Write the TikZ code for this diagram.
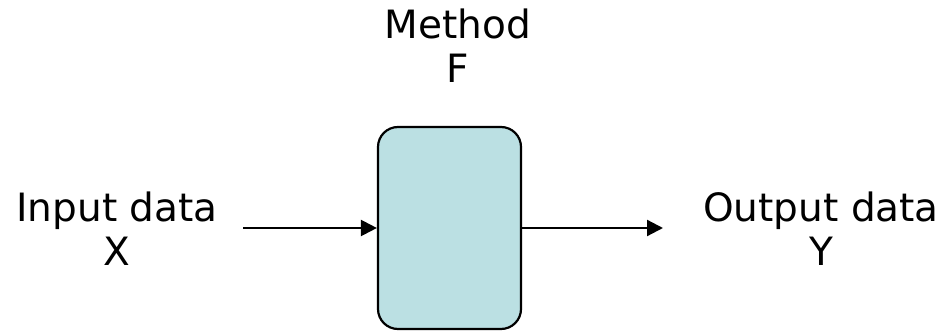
\documentclass[tikz,border=0pt]{standalone}
\usepackage{fontspec}
\setmainfont{DejaVu Sans}
\usetikzlibrary{arrows.meta}
\definecolor{boxfill}{HTML}{BBE0E3}
\tikzset{
  label text/.style={font=\fontsize{39}{44}\selectfont, align=center, inner sep=0pt, anchor=base},
  procbox/.style={draw=black, line width=2.2pt, fill=boxfill, rounded corners=20pt,
    minimum width=143pt, minimum height=202pt, inner sep=0pt},
  flow/.style={line width=2.2pt, -{Triangle[length=16pt,width=16pt]}}
}
\begin{document}
\begin{tikzpicture}[x=1pt, y=-1pt]
  \useasboundingbox (0,0) rectangle (944,331);
  % the processing block
  \node[procbox] (box) at (449.5,228) {};
  % labels (anchored at the baseline of their last line)
  \node[label text] (method) at (458,83) {Method\\F};
  \node[label text] (inp) at (117,265) {Input data\\X};
  \node[label text] (outp) at (821,265) {Output data\\Y};
  % connectors
  \coordinate (src) at (243,228);
  \coordinate (dst) at (663,228);
  \draw[flow] (src) -- (box.west);
  \draw[flow] (box.east) -- (dst);
\end{tikzpicture}
\end{document}
